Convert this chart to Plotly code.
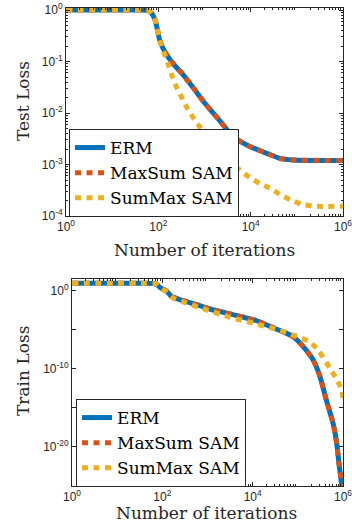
import plotly.graph_objects as go

# ---------------- data ----------------
series_names = ["ERM", "MaxSum SAM", "SumMax SAM"]
series_colors = ["#0072BD", "#D95319", "#EDB120"]

# Test loss
test_iter_erm = [1, 10, 40, 60, 71, 85, 107, 138, 209, 347, 617, 1000, 2138, 4169, 9550, 21878, 42658, 83176, 316228, 1000000]
test_loss_erm = [1.0, 1.0, 1.0, 0.977, 0.871, 0.646, 0.263, 0.155, 0.0912, 0.0550, 0.0282, 0.0158, 0.00708, 0.00347, 0.00224, 0.00166, 0.00132, 0.00123, 0.00120, 0.00120]
test_iter_maxsum = [1, 10, 40, 60, 71, 85, 107, 138, 209, 347, 617, 1000, 2138, 4169, 9550, 21878, 42658, 83176, 316228, 1000000]
test_loss_maxsum = [1.0, 1.0, 1.0, 0.977, 0.871, 0.646, 0.263, 0.155, 0.0912, 0.0550, 0.0282, 0.0158, 0.00708, 0.00347, 0.00224, 0.00166, 0.00132, 0.00123, 0.00120, 0.00120]
test_iter_summax = [1, 10, 40, 60, 71, 85, 107, 132, 162, 195, 245, 316, 407, 550, 794, 1259, 1995, 3548, 5888, 9550, 15849, 26303, 42658, 70795, 125893, 223872, 1000000]
test_loss_summax = [1.0, 1.0, 1.0, 0.977, 0.871, 0.646, 0.263, 0.151, 0.0912, 0.0550, 0.0324, 0.0209, 0.0132, 0.00851, 0.00537, 0.00316, 0.00191, 0.00112, 0.000776, 0.000562, 0.000427, 0.000347, 0.000263, 0.000209, 0.000170, 0.000155, 0.000155]

# Train loss
train_iter_erm = [1, 10, 40, 63, 74, 89, 126, 158, 288, 575, 1122, 2239, 5248, 12303, 20417, 46774, 79433, 131826, 218776, 309030, 426580, 602560, 724436, 812831, 933254, 1000000]
train_loss_erm = [8.9, 8.9, 8.9, 8.5, 7.2, 2.5, 0.83, 0.19, 0.052, 0.016, 0.0045, 0.0017, 5.2e-4, 1.4e-4, 4.0e-5, 5.5e-6, 1.26e-6, 6.6e-8, 1.3e-9, 1.0e-11, 1.0e-14, 1.0e-17, 2.8e-20, 7.9e-23, 1.3e-25, 3.2e-27]
train_iter_maxsum = [1, 10, 40, 63, 74, 89, 126, 158, 288, 575, 1122, 2239, 5248, 12303, 20417, 46774, 79433, 131826, 218776, 309030, 426580, 602560, 724436, 812831, 933254, 1000000]
train_loss_maxsum = [8.9, 8.9, 8.9, 8.5, 7.2, 2.5, 0.83, 0.19, 0.052, 0.016, 0.0045, 0.0017, 5.2e-4, 1.4e-4, 4.0e-5, 5.5e-6, 1.26e-6, 6.6e-8, 1.3e-9, 1.0e-11, 1.0e-14, 1.0e-17, 2.8e-20, 7.9e-23, 1.3e-25, 3.2e-27]
train_iter_summax = [1, 10, 40, 63, 74, 89, 126, 174, 347, 1023, 3162, 10233, 33884, 61660, 100000, 177828, 281838, 512861, 741310, 933254, 1000000]
train_loss_summax = [8.9, 8.9, 8.9, 8.5, 7.2, 2.5, 0.63, 0.115, 0.026, 0.0030, 3.9e-4, 6.9e-5, 1.1e-5, 3.5e-6, 1.26e-6, 2.9e-7, 2.5e-8, 1.1e-10, 3.5e-12, 2.0e-13, 1.0e-14]

# axes ticks
x_tickvals = [1, 100, 10000, 1000000]
x_ticktext = ["10<sup>0</sup>", "10<sup>2</sup>", "10<sup>4</sup>", "10<sup>6</sup>"]
test_tickvals = [1, 0.1, 0.01, 0.001, 0.0001]
test_ticktext = ["10<sup>0</sup>", "10<sup>-1</sup>", "10<sup>-2</sup>", "10<sup>-3</sup>", "10<sup>-4</sup>"]
train_tickvals = [1, 1e-5, 1e-10, 1e-15, 1e-20, 1e-25]
train_ticktext = ["10<sup>0</sup>", "", "10<sup>-10</sup>", "", "10<sup>-20</sup>", ""]

# ---------------- figure ----------------
W, H = 352, 529
AXC = "#262626"
SERIF = "DejaVu Serif"
SANS = "Liberation Sans"

def px_x(p):
    return p / W

def px_y(p):
    return 1 - p / H

fig = go.Figure()

top = [(test_iter_erm, test_loss_erm), (test_iter_maxsum, test_loss_maxsum), (test_iter_summax, test_loss_summax)]
bot = [(train_iter_erm, train_loss_erm), (train_iter_maxsum, train_loss_maxsum), (train_iter_summax, train_loss_summax)]
dashes = ["solid", "6px,5.5px", "6px,5.5px"]

for i, (xs, ys) in enumerate(top):
    fig.add_trace(go.Scatter(x=xs, y=ys, mode="lines", name=series_names[i],
                             line=dict(color=series_colors[i], width=5, dash=dashes[i], shape="spline", smoothing=0.6),
                             xaxis="x", yaxis="y", legend="legend"))
for i, (xs, ys) in enumerate(bot):
    fig.add_trace(go.Scatter(x=xs, y=ys, mode="lines", name=series_names[i],
                             line=dict(color=series_colors[i], width=5, dash=dashes[i], shape="spline", smoothing=0.6),
                             xaxis="x2", yaxis="y2", legend="legend2"))

minor_x = [k * 10 ** d for d in range(0, 6) for k in range(2, 10)]
minor_test = [k * 10 ** d for d in range(-4, 0) for k in range(2, 10)]

common = dict(type="log", showline=True, linecolor=AXC, linewidth=1, mirror="allticks",
              ticks="inside", ticklen=4, tickcolor=AXC, showgrid=False, zeroline=False,
              automargin=False, ticklabeloverflow="allow",
              tickfont=dict(family=SANS, size=12, color=AXC))

fig.update_layout(
    width=W, height=H, margin=dict(l=0, r=0, t=0, b=0),
    paper_bgcolor="white", plot_bgcolor="white",
    xaxis=dict(common, domain=[px_x(66), px_x(343)], range=[0, 6], anchor="y",
               tickmode="array", tickvals=x_tickvals, ticktext=x_ticktext,
               minor=dict(tickmode="array", tickvals=minor_x, ticks="inside", ticklen=2, tickcolor=AXC)),
    yaxis=dict(common, domain=[px_y(216), px_y(8)], range=[-4, 0.04], anchor="x",
               tickmode="array", tickvals=test_tickvals, ticktext=test_ticktext,
               minor=dict(tickmode="array", tickvals=minor_test, ticks="inside", ticklen=2, tickcolor=AXC)),
    xaxis2=dict(common, domain=[px_x(72), px_x(343)], range=[0, 6], anchor="y2",
                tickmode="array", tickvals=x_tickvals, ticktext=x_ticktext,
                minor=dict(tickmode="array", tickvals=minor_x, ticks="inside", ticklen=2, tickcolor=AXC)),
    yaxis2=dict(common, domain=[px_y(485.7), px_y(279)], range=[-25, 1.5], anchor="x2",
                tickmode="array", tickvals=train_tickvals, ticktext=train_ticktext),
    legend=dict(x=px_x(69), y=px_y(129), xanchor="left", yanchor="top",
                bgcolor="white", bordercolor=AXC, borderwidth=1,
                font=dict(family=SERIF, size=17, color="black"), itemwidth=30,
                tracegroupgap=0),
    legend2=dict(x=px_x(76), y=px_y(399), xanchor="left", yanchor="top",
                 bgcolor="white", bordercolor=AXC, borderwidth=1,
                 font=dict(family=SERIF, size=17, color="black"), itemwidth=30,
                 tracegroupgap=0),
    showlegend=True,
)

ann_font = dict(family=SERIF, size=17, color=AXC)
fig.add_annotation(text="Test Loss", x=px_x(23), y=px_y(101), xref="paper", yref="paper",
                   textangle=-90, showarrow=False, font=ann_font, xanchor="center", yanchor="middle")
fig.add_annotation(text="Train Loss", x=px_x(23), y=px_y(371), xref="paper", yref="paper",
                   textangle=-90, showarrow=False, font=ann_font, xanchor="center", yanchor="middle")
fig.add_annotation(text="Number of iterations", x=px_x(204), y=px_y(250), xref="paper", yref="paper",
                   showarrow=False, font=ann_font, xanchor="center", yanchor="middle")
fig.add_annotation(text="Number of iterations", x=px_x(207), y=px_y(513), xref="paper", yref="paper",
                   showarrow=False, font=ann_font, xanchor="center", yanchor="middle")

fig.write_html("out.html", config={"displayModeBar": False},
               post_script="document.body.style.margin='0';document.body.style.overflow='hidden';")
